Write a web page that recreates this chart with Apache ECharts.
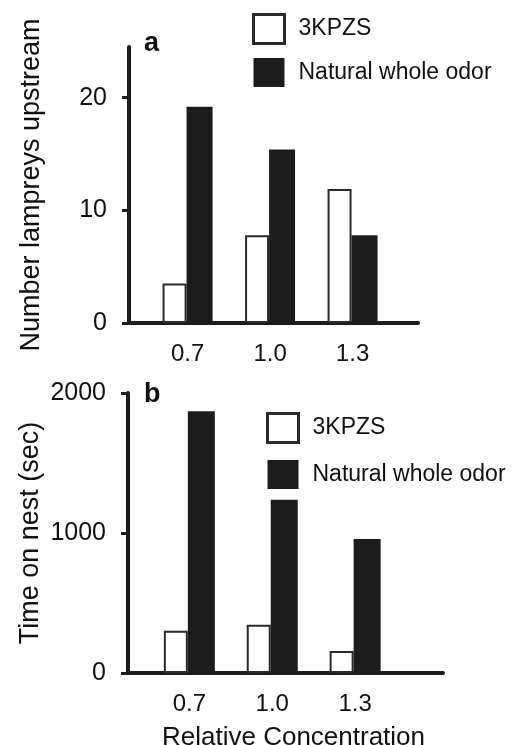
<!DOCTYPE html>
<html>
<head>
<meta charset="utf-8">
<script src="https://cdn.jsdelivr.net/npm/echarts@6/dist/echarts.min.js"></script>
<style>
html,body{margin:0;padding:0;background:#fff;}
#chart{width:515px;height:745px;}
</style>
</head>
<body>
<div id="chart"></div>
<script>
// ---- data ----
const concentrations = [0.7, 1.0, 1.3];
const seriesNames = ['3KPZS', 'Natural whole odor'];
const lampreys3KPZS = [3.5, 7.8, 11.9];
const lampreysNatural = [19.2, 15.4, 7.8];
const nest3KPZS = [302, 345, 158];
const nestNatural = [1870, 1237, 957];
const yTicksA = [0, 10, 20];
const yTicksB = [0, 1000, 2000];

const FONT = '"Liberation Sans", Arial, sans-serif';
const INK = '#1c1c1c';
const pair = vals => concentrations.map((c, i) => [c, vals[i]]);

function xAxisCfg(gridIndex, min, max, name) {
  return {
    type: 'value', gridIndex, min, max,
    axisLine: {show: true, onZero: false, lineStyle: {color: INK, width: 4}},
    axisTick: {show: false},
    splitLine: {show: false},
    axisLabel: {
      customValues: concentrations,
      formatter: v => v.toFixed(1),
      color: '#111', fontFamily: FONT, fontSize: 24, margin: 19
    },
    name: name || '',
    nameLocation: 'middle',
    nameGap: 52,
    nameMoveOverlap: false,
    nameTextStyle: {color: '#111', fontFamily: FONT, fontSize: 26, padding: [0, 0, 0, 16]}
  };
}
function yAxisCfg(gridIndex, max, interval, ticks, name, gap) {
  return {
    type: 'value', gridIndex, min: 0, max, interval,
    axisLine: {show: true, lineStyle: {color: INK, width: 4}},
    axisTick: {show: true, inside: false, length: 7, customValues: ticks, lineStyle: {color: INK, width: 3}},
    splitLine: {show: false},
    axisLabel: {customValues: ticks, formatter: v => String(v), color: '#111', fontFamily: FONT, fontSize: 25, margin: 22},
    name, nameLocation: 'middle', nameGap: gap, nameRotate: 90,
    nameMoveOverlap: false,
    nameTextStyle: {color: '#111', fontFamily: FONT, fontSize: 27}
  };
}
const whiteStyle = {color: '#ffffff', borderColor: '#2a2a2a', borderWidth: 2};
const blackStyle = {color: INK, borderColor: INK, borderWidth: 0};

const legendCommon = {
  orient: 'vertical', itemWidth: 31, itemHeight: 29, icon: 'rect',
  textStyle: {color: '#111', fontFamily: FONT, fontSize: 23, padding: [0, 0, 0, 9]},
  selectedMode: false
};

const option = {
  backgroundColor: '#fff',
  animation: false,
  title: [
    {text: 'a', left: 139, top: 25, textStyle: {fontFamily: FONT, fontWeight: 'bold', fontSize: 27, color: '#111'}},
    {text: 'b', left: 139, top: 376, textStyle: {fontFamily: FONT, fontWeight: 'bold', fontSize: 27, color: '#111'}}
  ],
  legend: [
    Object.assign({}, legendCommon, {left: 247, top: 8, itemGap: 13,
      data: [{name: seriesNames[0], itemStyle: {borderWidth: 3, borderColor: '#2a2a2a'}}, {name: seriesNames[1]}]}),
    Object.assign({}, legendCommon, {left: 261, top: 407, itemGap: 16,
      data: [{name: seriesNames[0], itemStyle: {borderWidth: 3, borderColor: '#2a2a2a'}}, {name: seriesNames[1]}]})
  ],
  grid: [
    {left: 129, top: 47, width: 289, height: 276, outerBoundsMode: 'none', containLabel: false},
    {left: 128, top: 393, width: 315, height: 280, outerBoundsMode: 'none', containLabel: false}
  ],
  xAxis: [
    xAxisCfg(0, 0.487, 1.538, ''),
    xAxisCfg(1, 0.478, 1.618, 'Relative Concentration')
  ],
  yAxis: [
    yAxisCfg(0, 24.5, 10, yTicksA, 'Number lampreys upstream', 84),
    yAxisCfg(1, 2000, 1000, yTicksB, 'Time on nest (sec)', 84)
  ],
  series: [
    {name: seriesNames[0], type: 'bar', xAxisIndex: 0, yAxisIndex: 0, barWidth: 24, barGap: '0%',
      itemStyle: whiteStyle, data: pair(lampreys3KPZS)},
    {name: seriesNames[1], type: 'bar', xAxisIndex: 0, yAxisIndex: 0, barWidth: 26, barGap: '0%',
      itemStyle: blackStyle, data: pair(lampreysNatural)},
    {name: seriesNames[0], type: 'bar', xAxisIndex: 1, yAxisIndex: 1, barWidth: 24, barGap: '0%',
      itemStyle: whiteStyle, data: pair(nest3KPZS)},
    {name: seriesNames[1], type: 'bar', xAxisIndex: 1, yAxisIndex: 1, barWidth: 27, barGap: '0%',
      itemStyle: blackStyle, data: pair(nestNatural)}
  ]
};
const chart = echarts.init(document.getElementById('chart'), null, {renderer: 'canvas'});
chart.setOption(option);
</script>
</body>
</html>
